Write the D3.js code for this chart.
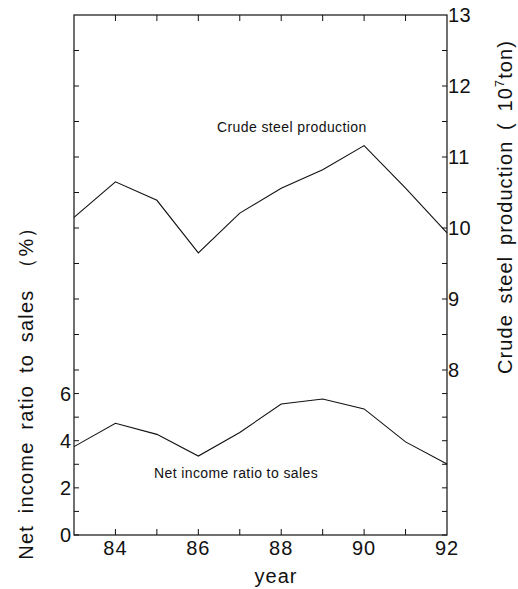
<!DOCTYPE html>
<html>
<head>
<meta charset="utf-8">
<script src="https://cdn.jsdelivr.net/npm/d3@7"></script>
<style>
  body { margin: 0; background: #fff; }
  svg text { font-family: "Liberation Sans", Arial, Helvetica, sans-serif; fill: #111; }
</style>
</head>
<body>
<div id="chart"></div>
<script>
// Data
const years = [83, 84, 85, 86, 87, 88, 89, 90, 91, 92];
const steelProduction = [10.15, 10.65, 10.39, 9.65, 10.21, 10.56, 10.82, 11.16, 10.56, 9.93]; // 10^7 ton
const netIncomeRatio = [3.75, 4.74, 4.27, 3.35, 4.35, 5.56, 5.77, 5.35, 3.95, 3.01];        // %
const xTickLabels = [84, 86, 88, 90, 92];
const leftTickLabels = [0, 2, 4, 6];
const rightTickLabels = [8, 9, 10, 11, 12, 13];

const W = 518, H = 589;
const plot = { left: 74, right: 447, top: 15, bottom: 535 };

const svg = d3.select('#chart').append('svg')
    .attr('width', W)
    .attr('height', H);

// scales
const x = d3.scaleLinear().domain([83, 92]).range([plot.left, plot.right]);
// left axis: 0..7 covers the lower part of the frame
const yL = d3.scaleLinear().domain([0, 7]).range([plot.bottom, 370]);
// right axis: 8..13 covers the upper part
const yR = d3.scaleLinear().domain([8, 13]).range([370, plot.top]);

// frame
svg.append('rect')
    .attr('x', plot.left)
    .attr('y', plot.top)
    .attr('width', plot.right - plot.left)
    .attr('height', plot.bottom - plot.top)
    .attr('fill', 'none')
    .attr('stroke', '#111')
    .attr('stroke-width', 1.2);

// tick positions shared by both vertical sides
const tickYs = d3.range(0, 7).map(v => yL(v))
    .concat(d3.range(8, 13, 0.5).map(v => yR(v)));
const tickLen = 5;

svg.append('g').selectAll('line')
    .data(tickYs)
    .join('line')
    .attr('x1', plot.left).attr('x2', plot.left + tickLen)
    .attr('y1', d => d).attr('y2', d => d)
    .attr('stroke', '#111');

svg.append('g').selectAll('line')
    .data(tickYs)
    .join('line')
    .attr('x1', plot.right).attr('x2', plot.right - tickLen)
    .attr('y1', d => d).attr('y2', d => d)
    .attr('stroke', '#111');

// year ticks on top and bottom, pointing inward
const yearTicks = d3.range(84, 92);
svg.append('g').selectAll('line')
    .data(yearTicks)
    .join('line')
    .attr('x1', d => x(d)).attr('x2', d => x(d))
    .attr('y1', plot.bottom).attr('y2', plot.bottom - 6)
    .attr('stroke', '#111');

svg.append('g').selectAll('line')
    .data(yearTicks)
    .join('line')
    .attr('x1', d => x(d)).attr('x2', d => x(d))
    .attr('y1', plot.top).attr('y2', plot.top + 6)
    .attr('stroke', '#111');

// tick labels
svg.append('g').selectAll('text')
    .data(xTickLabels)
    .join('text')
    .attr('x', d => x(d))
    .attr('y', 555)
    .attr('text-anchor', 'middle')
    .style('font-size', '20px')
    .style('letter-spacing', '1px')
    .text(d => d);

svg.append('g').selectAll('text')
    .data(leftTickLabels)
    .join('text')
    .attr('x', plot.left - 3)
    .attr('y', d => yL(d) + 7)
    .attr('text-anchor', 'end')
    .style('font-size', '20px')
    .text(d => d);

svg.append('g').selectAll('text')
    .data(rightTickLabels)
    .join('text')
    .attr('x', plot.right + 1)
    .attr('y', d => yR(d) + 7)
    .attr('text-anchor', 'start')
    .style('font-size', '20px')
    .style('letter-spacing', '0.5px')
    .text(d => d);

// axis titles
svg.append('text')
    .attr('x', 276)
    .attr('y', 583)
    .attr('text-anchor', 'middle')
    .style('font-size', '20px')
    .style('letter-spacing', '1px')
    .text('year');

svg.append('text')
    .attr('transform', 'translate(33,388) rotate(-90)')
    .attr('text-anchor', 'middle')
    .style('font-size', '20px')
    .style('letter-spacing', '1.2px')
    .style('word-spacing', '5px')
    .text('Net income ratio to sales （%）');

const rTitle = svg.append('text')
    .attr('transform', 'translate(512,207) rotate(-90)')
    .attr('text-anchor', 'middle')
    .style('font-size', '20px')
    .style('letter-spacing', '1.1px')
    .style('word-spacing', '4px');
rTitle.append('tspan').text('Crude steel production ( 10');
rTitle.append('tspan').attr('dy', -8).style('font-size', '13px').text('7');
rTitle.append('tspan').attr('dy', 8).text('ton)');

// lines
const steelLine = d3.line()
    .x((d, i) => x(years[i]))
    .y(d => yR(d));

const incomeLine = d3.line()
    .x((d, i) => x(years[i]))
    .y(d => yL(d));

svg.append('path')
    .datum(steelProduction)
    .attr('d', steelLine)
    .attr('fill', 'none')
    .attr('stroke', '#111')
    .attr('stroke-width', 1.1);

svg.append('path')
    .datum(netIncomeRatio)
    .attr('d', incomeLine)
    .attr('fill', 'none')
    .attr('stroke', '#111')
    .attr('stroke-width', 1.1);

// series labels
svg.append('text')
    .attr('x', 217)
    .attr('y', 132)
    .style('font-size', '14px')
    .style('letter-spacing', '0.4px')
    .text('Crude steel production');

svg.append('text')
    .attr('x', 154)
    .attr('y', 478)
    .style('font-size', '14px')
    .style('letter-spacing', '0.4px')
    .text('Net income ratio to sales');
</script>
</body>
</html>
